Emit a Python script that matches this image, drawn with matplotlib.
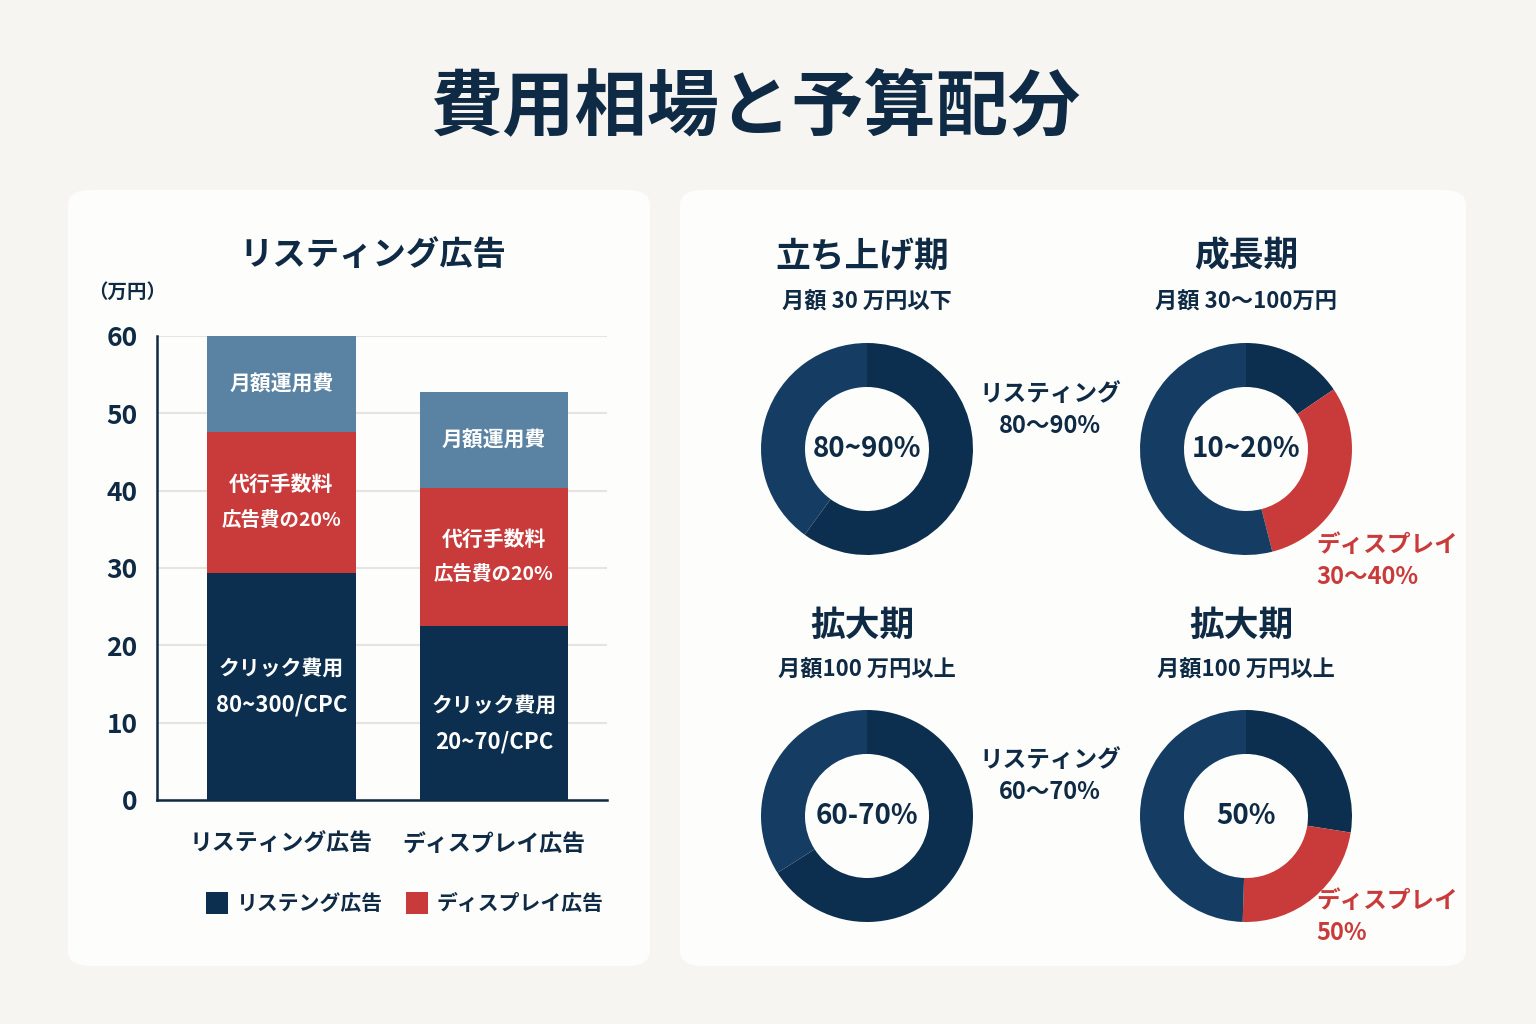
import matplotlib.pyplot as plt
from matplotlib.patches import FancyBboxPatch, Rectangle

plt.rcParams['font.family'] = ['Noto Sans CJK JP', 'DejaVu Sans']

# ---- data ----
bar_cats = ["リスティング広告", "ディスプレイ広告"]
click_cost = [29.4, 22.5]
agency_fee = [18.2, 17.9]
monthly_fee = [12.4, 12.3]
y_ticks = [0, 10, 20, 30, 40, 50, 60]

click_txt = ["80~300/CPC", "20~70/CPC"]

donut_titles = ["立ち上げ期", "成長期", "拡大期", "拡大期"]
donut_subs = ["月額 30 万円以下", "月額 30～100万円", "月額100 万円以上", "月額100 万円以上"]
donut_center = ["80~90%", "10~20%", "60-70%", "50%"]
# shares clockwise from 12 o'clock: dark navy, red, light navy
donut_dark = [0.60, 0.155, 0.66, 0.275]
donut_red = [0.0, 0.305, 0.0, 0.23]
donut_light = [0.40, 0.54, 0.34, 0.495]
side_labels = ["リスティング\n80～90%", "ディスプレイ\n30～40%", "リスティング\n60～70%", "ディスプレイ\n50%"]

NAVY = "#0c2f4f"
NAVY2 = "#153d64"
RED = "#c93b3b"
STEEL = "#5a82a2"
TXT = "#0f2a44"
W, H = 1536, 1024

fig = plt.figure(figsize=(15.36, 10.24), dpi=100)
fig.patch.set_facecolor("#f6f5f1")


def fx(x):
    return x / W


def fy(y):
    return 1 - y / H


def add_ax(l, t, r, b):
    return fig.add_axes([fx(l), fy(b), (r - l) / W, (b - t) / H])


# panels
for l, t, r, b in [(68, 190, 650, 966), (680, 190, 1466, 966)]:
    fig.patches.append(FancyBboxPatch((fx(l), fy(b)), (r - l) / W, (b - t) / H,
                                      boxstyle="round,pad=0,rounding_size=0.015",
                                      transform=fig.transFigure, facecolor="#fdfdfb",
                                      edgecolor="none", zorder=-1))

fig.text(fx(755), fy(108), "費用相場と予算配分", ha="center", va="center",
         fontsize=52, fontweight="bold", color=TXT)
fig.text(fx(373), fy(256), "リスティング広告", ha="center", va="center",
         fontsize=24, fontweight="bold", color=TXT)
fig.text(fx(127), fy(292), "（万円）", ha="center", va="center",
         fontsize=14, fontweight="bold", color=TXT)

# ---- stacked bars ----
ax = add_ax(157, 336, 607, 800)
ax.set_facecolor("none")
x = [0, 1]
bw = 0.70
b1 = click_cost
b2 = [c + a for c, a in zip(click_cost, agency_fee)]
ax.bar(x, click_cost, bw, color=NAVY, zorder=3)
ax.bar(x, agency_fee, bw, bottom=b1, color=RED, zorder=3)
ax.bar(x, monthly_fee, bw, bottom=b2, color=STEEL, zorder=3)
ax.set_xlim(-0.586, 1.532)
ax.set_ylim(0, 60)
ax.set_yticks(y_ticks)
ax.set_yticklabels([str(v) for v in y_ticks], fontsize=19, fontweight="bold", color=TXT)
ax.tick_params(axis="y", length=0, pad=14)
ax.tick_params(axis="x", length=0, pad=24)
ax.set_xticks(x)
ax.set_xticklabels(bar_cats, fontsize=16.5, fontweight="bold", color=TXT)
ax.grid(axis="y", color="#e6e4df", linewidth=1.5, zorder=0)
for s in ["top", "right"]:
    ax.spines[s].set_visible(False)
for s in ["left", "bottom"]:
    ax.spines[s].set_color(TXT)
    ax.spines[s].set_linewidth(1.8)

for i in x:
    top_mid = b2[i] + monthly_fee[i] / 2
    red_mid = b1[i] + agency_fee[i] / 2
    navy_mid = click_cost[i] * (0.5 if i == 0 else 0.44)
    kw = dict(ha="center", va="center", color="white", fontweight="bold", zorder=4)
    ax.text(i, top_mid, "月額運用費", fontsize=15, **kw)
    ax.text(i, red_mid + 2.3, "代行手数料", fontsize=15, **kw)
    ax.text(i, red_mid - 2.3, "広告費の20%", fontsize=14, **kw)
    ax.text(i, navy_mid + 2.4, "クリック費用", fontsize=15, **kw)
    ax.text(i, navy_mid - 2.4, click_txt[i], fontsize=16, **kw)

# legend
lg_items = [(217, NAVY, "リステング広告"), (417, RED, "ディスプレイ広告")]
for px, col, lab in lg_items:
    fig.patches.append(Rectangle((fx(px - 11), fy(914)), 22 / W, 22 / H,
                                 transform=fig.transFigure, facecolor=col,
                                 edgecolor="none"))
    fig.text(fx(px + 20), fy(903), lab, ha="left", va="center",
             fontsize=15, fontweight="bold", color=TXT)

# ---- donuts ----
centers = [(867, 449), (1246, 449), (867, 816), (1246, 816)]
title_y = [256, 256, 625, 625]
sub_y = [302, 302, 670, 670]
side_pos = [(1050, 410, "center", TXT), (1316, 561, "left", RED),
            (1050, 776, "center", TXT), (1316, 917, "left", RED)]
R = 106
for k, (cx, cy) in enumerate(centers):
    fig.text(fx(cx - 5 if k != 1 else cx), fy(title_y[k]), donut_titles[k],
             ha="center", va="center", fontsize=25, fontweight="bold", color=TXT)
    fig.text(fx(cx), fy(sub_y[k]), donut_subs[k], ha="center", va="center",
             fontsize=16, fontweight="bold", color=TXT)
    dax = add_ax(cx - R, cy - R, cx + R, cy + R)
    vals = [donut_dark[k], donut_red[k], donut_light[k]]
    cols = [NAVY, RED, NAVY2]
    dax.pie(vals, colors=cols, startangle=90, counterclock=False, radius=1,
            wedgeprops=dict(width=0.415, edgecolor="none"))
    dax.set_xlim(-1, 1)
    dax.set_ylim(-1, 1)
    dax.set_aspect("equal")
    dax.axis("off")
    dax.text(0, 0, donut_center[k], ha="center", va="center", fontsize=20,
             fontweight="bold", color=TXT)
    sx, sy, ha, col = side_pos[k]
    fig.text(fx(sx), fy(sy), side_labels[k], ha=ha, va="center", fontsize=17,
             fontweight="bold", color=col, linespacing=1.4)

fig.savefig("out.png", dpi=100, facecolor=fig.get_facecolor())
